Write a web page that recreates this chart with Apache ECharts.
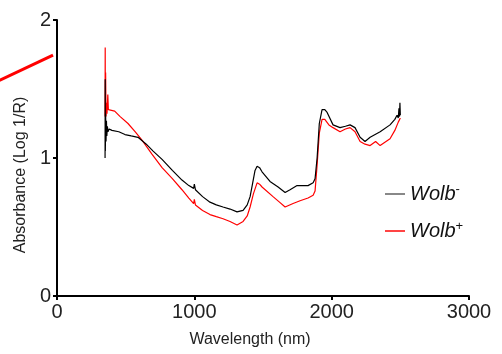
<!DOCTYPE html>
<html>
<head>
<meta charset="utf-8">
<script src="https://cdn.jsdelivr.net/npm/echarts@6/dist/echarts.min.js"></script>
<style>html,body{margin:0;padding:0;background:#fff}#c{width:502px;height:354px}</style>
</head>
<body>
<div id="c"></div>
<script>
var xTicks = [0, 1000, 2000, 3000];
var yTicks = [0, 1, 2];
var seriesNames = ['Wolb-', 'Wolb+'];
var wolbMinus = [[350,1.0],[351,1.57],[352,1.05],[354,1.32],[357,1.12],[360,1.27],[363,1.16],[367,1.23],[371,1.19],[380,1.21],[400,1.20],[450,1.19],[495,1.17],[540,1.16],[590,1.15],[650,1.10],[700,1.05],[765,0.99],[840,0.91],[910,0.84],[960,0.80],[995,0.78],[1000,0.81],[1008,0.77],[1060,0.72],[1114,0.68],[1160,0.66],[1209,0.645],[1260,0.63],[1311,0.61],[1355,0.62],[1385,0.66],[1406,0.72],[1425,0.82],[1442,0.91],[1457,0.94],[1475,0.93],[1493,0.90],[1551,0.83],[1610,0.79],[1661,0.75],[1697,0.77],[1748,0.80],[1800,0.80],[1828,0.80],[1865,0.82],[1879,0.85],[1894,1.0],[1910,1.25],[1930,1.35],[1950,1.35],[1967,1.33],[2010,1.24],[2061,1.22],[2100,1.23],[2134,1.24],[2170,1.22],[2207,1.15],[2243,1.12],[2280,1.15],[2353,1.19],[2425,1.24],[2460,1.28],[2476,1.31],[2485,1.29],[2490,1.36],[2494,1.30],[2497,1.40],[2500,1.31]];
var wolbPlus = [[350,1.30],[351,1.80],[352,1.35],[354,1.62],[357,1.30],[360,1.40],[364,1.32],[370,1.46],[374,1.35],[386,1.36],[420,1.34],[460,1.30],[517,1.25],[570,1.19],[619,1.13],[690,1.03],[765,0.93],[840,0.85],[910,0.77],[960,0.71],[995,0.67],[1000,0.70],[1008,0.66],[1060,0.62],[1114,0.59],[1160,0.575],[1209,0.56],[1260,0.54],[1311,0.515],[1355,0.54],[1385,0.58],[1406,0.645],[1430,0.74],[1457,0.82],[1475,0.81],[1493,0.79],[1573,0.72],[1620,0.68],[1661,0.645],[1719,0.67],[1770,0.69],[1828,0.71],[1865,0.73],[1879,0.76],[1894,0.95],[1910,1.18],[1930,1.28],[1950,1.28],[1980,1.24],[2010,1.22],[2061,1.19],[2100,1.21],[2134,1.22],[2170,1.19],[2207,1.12],[2243,1.10],[2280,1.09],[2320,1.12],[2353,1.09],[2425,1.14],[2460,1.20],[2485,1.26],[2500,1.29]];
var strayLine = [[-500,1.525],[-29,1.746]];

var chart = echarts.init(document.getElementById('c'), null, {renderer: 'canvas'});
var font = '"Liberation Sans", Arial, sans-serif';
chart.setOption({
  animation: false,
  textStyle: {fontFamily: font},
  grid: {left: 57, right: 33, top: 20, bottom: 58, containLabel: false},
  xAxis: {
    type: 'value', min: xTicks[0], max: xTicks[xTicks.length - 1], interval: 1000,
    axisLine: {lineStyle: {color: '#000', width: 2}},
    axisTick: {show: true, length: 4, lineStyle: {color: '#000', width: 2}},
    axisLabel: {fontSize: 20, color: '#222', margin: 6, fontFamily: font, formatter: function (v) { return String(v); }},
    splitLine: {show: false},
    name: 'Wavelength (nm)', nameLocation: 'middle', nameGap: 36,
    nameTextStyle: {fontSize: 16, color: '#222', fontFamily: font, padding: [0, 26, 0, 0]}
  },
  yAxis: {
    type: 'value', min: yTicks[0], max: yTicks[yTicks.length - 1], interval: 1,
    axisLine: {show: true, lineStyle: {color: '#000', width: 2}},
    axisTick: {show: true, length: 4, lineStyle: {color: '#000', width: 2}},
    axisLabel: {fontSize: 20, color: '#222', margin: 6, fontFamily: font},
    splitLine: {show: false},
    name: 'Absorbance (Log 1/R)', nameLocation: 'middle', nameGap: 24,
    nameTextStyle: {fontSize: 16, color: '#222', fontFamily: font, padding: [0, 34, 0, 0]}
  },
  legend: {
    orient: 'vertical', left: 380, top: 178, itemGap: 14, itemWidth: 20, itemHeight: 2,
    data: [
      {name: seriesNames[0], icon: 'rect', itemStyle: {color: '#888'}},
      {name: seriesNames[1], icon: 'rect', itemStyle: {color: '#f44'}}
    ],
    formatter: function (n) { return n === seriesNames[0] ? '{a|Wolb}{b|-}' : '{a|Wolb}{b|+}'; },
    textStyle: {
      rich: {
        a: {fontSize: 20, fontStyle: 'italic', color: '#111', fontFamily: font, lineHeight: 22},
        b: {fontSize: 13, color: '#111', fontFamily: font, verticalAlign: 'top', lineHeight: 22, padding: [0, 0, 10, 0]}
      }
    }
  },
  series: [
    {name: seriesNames[0], type: 'line', data: wolbMinus, symbol: 'none', lineStyle: {color: '#000', width: 1.2}, itemStyle: {color: '#000'}, z: 3},
    {name: seriesNames[1], type: 'line', data: wolbPlus, symbol: 'none', lineStyle: {color: '#f00', width: 1.2}, itemStyle: {color: '#f00'}, z: 2}
  ]
});
var strayPts = strayLine.map(function (p) { return chart.convertToPixel({gridIndex: 0}, p); });
chart.setOption({
  graphic: [{type: 'polyline', shape: {points: strayPts}, style: {stroke: '#f00', lineWidth: 3, fill: null}, silent: true, z: 10}]
});
</script>
</body>
</html>
